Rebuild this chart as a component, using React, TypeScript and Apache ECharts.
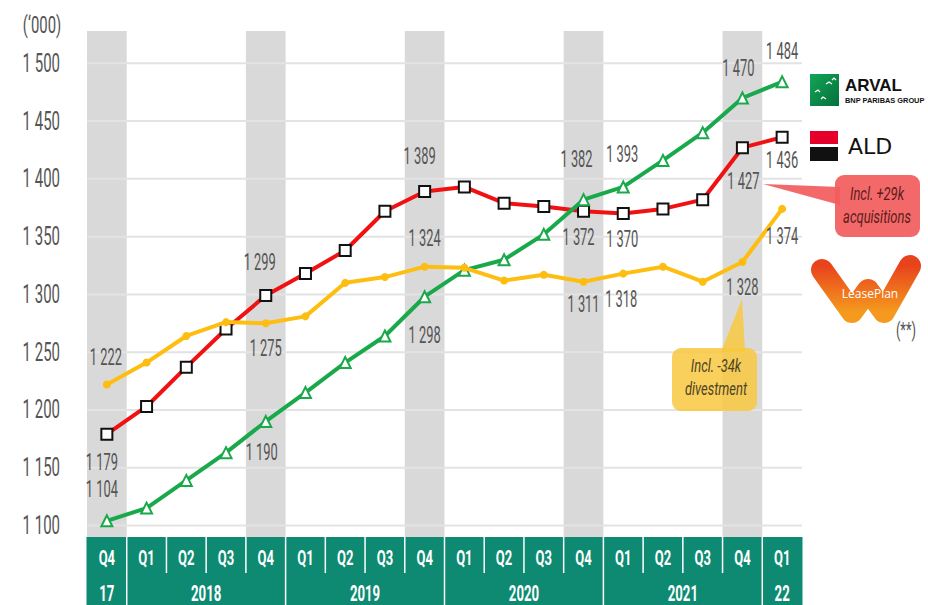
import React, { useEffect, useRef } from 'react';
import * as echarts from 'echarts';

// ---------- data ----------
const quarterLabels = ['Q4', 'Q1', 'Q2', 'Q3', 'Q4', 'Q1', 'Q2', 'Q3', 'Q4', 'Q1', 'Q2', 'Q3', 'Q4', 'Q1', 'Q2', 'Q3', 'Q4', 'Q1'];
const yearLabels = ['17', '2018', '2019', '2020', '2021', '22'];
const yearSpans = [1, 4, 4, 4, 4, 1];

const arvalValues = [1104, 1115, 1139, 1163, 1190, 1215, 1241, 1264, 1298, 1321, 1330, 1352, 1382, 1393, 1416, 1440, 1470, 1484];
const aldValues = [1179, 1203, 1237, 1270, 1299, 1318, 1338, 1372, 1389, 1393, 1379, 1376, 1372, 1370, 1374, 1382, 1427, 1436];
const leasePlanValues = [1222, 1241, 1264, 1276, 1275, 1281, 1310, 1315, 1324, 1323, 1312, 1317, 1311, 1318, 1324, 1311, 1328, 1374];

const yTicks = [1100, 1150, 1200, 1250, 1300, 1350, 1400, 1450, 1500];

// labelled points: [point index, dx, dy] (label placement relative to the point, px)
const arvalLabels: [number, number, number][] = [[0, -5, -31], [4, -4, 31], [8, 0, 39], [12, -7, -40], [13, -1, -32], [16, -4, -29], [17, 0, -30]];
const aldLabels: [number, number, number][] = [[0, -5, 28], [4, -6, -33], [8, -5, -35], [12, -5, 26], [13, -1, 26], [16, 1, 34], [17, 0, 23]];
const leasePlanLabels: [number, number, number][] = [[0, -1, -27], [4, 0, 25], [8, 0, -28], [12, 0, 23], [13, -2, 26], [16, 0, 26], [17, 0, 28]];

// ---------- styles ----------
const FONT = "Roboto, 'Liberation Sans', sans-serif";
const GREEN = '#19a94b';
const RED = '#f01212';
const YELLOW = '#fdbd11';
const STRIP = '#0e8a72';
const BAND = '#d9d9d9';
const TEXT = '#555555';

const fmt = (v: number) => `${Math.floor(v / 1000)} ${String(v % 1000).padStart(3, '0')}`;

// year of each quarter + first index of each year
const yearStarts: number[] = [];
const yearOfQuarter: string[] = [];
{
  let idx = 0;
  yearSpans.forEach((s, k) => {
    yearStarts.push(idx);
    for (let j = 0; j < s; j++) yearOfQuarter.push(yearLabels[k]);
    idx += s;
  });
}
const categories = quarterLabels.map((q, i) => `${q} ${yearOfQuarter[i]}`);

function labelSeries(name: string, values: number[], cfg: [number, number, number][]) {
  return {
    name: name + ' labels',
    type: 'custom',
    xAxisIndex: 0,
    yAxisIndex: 0,
    data: cfg.map(([i]) => [i, values[i]]),
    encode: { x: 0, y: 1 },
    silent: true,
    z: 10,
    renderItem: (params: any, api: any) => {
      const c = cfg[params.dataIndex];
      const p = api.coord([api.value(0), api.value(1)]);
      return {
        type: 'text',
        x: p[0] + c[1],
        y: p[1] + c[2],
        scaleX: 0.56,
        style: {
          text: fmt(api.value(1)), x: 0, y: 0, align: 'center', verticalAlign: 'middle',
          fontSize: 23, fill: TEXT, fontFamily: FONT,
        },
      };
    },
  };
}

function lineSeries(name: string, values: number[], color: string, symbol: string, size: number, item: any, z: number) {
  return {
    name,
    type: 'line',
    xAxisIndex: 0,
    yAxisIndex: 0,
    data: values,
    symbol,
    symbolSize: size,
    showAllSymbol: true,
    lineStyle: { color, width: 4 },
    itemStyle: item,
    z,
  };
}

function txt(text: string, x: number, y: number, scaleX: number, style: any) {
  return {
    type: 'text', silent: true, z: 101, x, y, scaleX,
    style: { text, x: 0, y: 0, align: 'center', verticalAlign: 'middle', fontFamily: FONT, ...style },
  };
}

function buildOption(): any {
  return {
    animation: false,
    backgroundColor: '#fff',
    grid: [
      { left: 87, right: 126, top: 31, bottom: 68, outerBoundsMode: 'none' },
      { left: 87, right: 126, top: 537, bottom: 0, outerBoundsMode: 'none' },
    ],
    xAxis: [
      { type: 'category', gridIndex: 0, data: categories, boundaryGap: true, show: false },
      { type: 'category', gridIndex: 1, data: categories, boundaryGap: true, show: false },
    ],
    yAxis: [
      { type: 'value', gridIndex: 0, min: 1090, max: 1528, show: false },
      { type: 'value', gridIndex: 0, min: 0, max: 1, show: false },
      { type: 'value', gridIndex: 1, min: 0, max: 1, show: false },
    ],
    series: [
      {
        name: 'bands',
        type: 'bar',
        xAxisIndex: 0,
        yAxisIndex: 1,
        data: quarterLabels.map((q) => (q === 'Q4' ? 1 : '-')),
        barWidth: '100%',
        itemStyle: { color: BAND },
        silent: true,
        z: 1,
      },
      {
        name: 'gridlines',
        type: 'custom',
        xAxisIndex: 0,
        yAxisIndex: 0,
        data: yTicks.map((v) => [0, v]),
        encode: { x: 0, y: 1 },
        silent: true,
        z: 2,
        renderItem: (params: any, api: any) => {
          const v = api.value(1);
          const y = api.coord([0, v])[1];
          const cs = params.coordSys;
          return {
            type: 'group',
            children: [
              {
                type: 'line',
                shape: { x1: cs.x, y1: y, x2: cs.x + cs.width, y2: y },
                style: { stroke: '#e3e3e3', lineWidth: 2 },
              },
              {
                type: 'text',
                x: cs.x - 27,
                y,
                scaleX: 0.6,
                style: {
                  text: fmt(v), x: 0, y: 0, align: 'right', verticalAlign: 'middle',
                  fontSize: 25, fill: TEXT, fontFamily: FONT,
                },
              },
            ],
          };
        },
      },
      {
        name: 'strip',
        type: 'custom',
        xAxisIndex: 1,
        yAxisIndex: 2,
        data: quarterLabels.map((_, i) => [i, 0]),
        encode: { x: 0, y: 1 },
        silent: true,
        z: 2,
        renderItem: (params: any, api: any) => {
          const i = api.value(0);
          const cx = api.coord([i, 0])[0];
          const w = api.size([1, 0])[0];
          const cs = params.coordSys;
          const children: any[] = [
            { type: 'rect', shape: { x: cx - w / 2 - 0.5, y: cs.y, width: w + 1, height: cs.height }, style: { fill: STRIP } },
            {
              type: 'text',
              x: cx,
              y: cs.y + cs.height * 0.3,
              scaleX: 0.62,
              style: {
                text: quarterLabels[i], x: 0, y: 0,
                align: 'center', verticalAlign: 'middle', fill: '#fff',
                fontSize: 21, fontWeight: 'bold', fontFamily: FONT,
              },
            },
          ];
          if (i > 0) {
            const full = yearStarts.includes(i);
            children.push({
              type: 'line',
              shape: { x1: cx - w / 2, y1: cs.y, x2: cx - w / 2, y2: cs.y + (full ? cs.height : cs.height * 0.53) },
              style: { stroke: '#fff', lineWidth: 1.5 },
            });
          }
          return { type: 'group', children };
        },
      },
      {
        name: 'years',
        type: 'custom',
        xAxisIndex: 1,
        yAxisIndex: 2,
        data: yearLabels.map((_, k) => [yearStarts[k], yearStarts[k] + yearSpans[k] - 1, 0]),
        encode: { x: [0, 1], y: 2 },
        silent: true,
        z: 3,
        renderItem: (params: any, api: any) => {
          const k = params.dataIndex;
          const x1 = api.coord([api.value(0), 0])[0];
          const x2 = api.coord([api.value(1), 0])[0];
          const cs = params.coordSys;
          return {
            type: 'text',
            x: (x1 + x2) / 2,
            y: cs.y + cs.height * 0.83,
            scaleX: 0.6,
            style: {
              text: yearLabels[k], x: 0, y: 0,
              align: 'center', verticalAlign: 'middle', fill: '#fff',
              fontSize: 22, fontWeight: 'bold', fontFamily: FONT,
            },
          };
        },
      },
      lineSeries('ALD', aldValues, RED, 'rect', 11, { color: '#fff', borderColor: '#111', borderWidth: 2 }, 4),
      lineSeries('Arval', arvalValues, GREEN, 'triangle', 11, { color: '#fff', borderColor: GREEN, borderWidth: 2 }, 5),
      lineSeries('LeasePlan', leasePlanValues, YELLOW, 'circle', 8, { color: YELLOW }, 6),
      labelSeries('ALD', aldValues, aldLabels),
      labelSeries('Arval', arvalValues, arvalLabels),
      labelSeries('LeasePlan', leasePlanValues, leasePlanLabels),
    ],
    graphic: [
      txt('(‘000)', 42, 25, 0.62, { fontSize: 24, fill: TEXT }),
      // Arval logo
      {
        type: 'rect', silent: true, z: 100,
        shape: { x: 810, y: 74, width: 29, height: 32 },
        style: { fill: new echarts.graphic.LinearGradient(0, 0, 1, 1, [{ offset: 0, color: '#12a556' }, { offset: 1, color: '#05703c' }]) },
      },
      { type: 'polyline', silent: true, z: 101, shape: { points: [[826, 84], [829, 82], [832, 84]] }, style: { stroke: '#fff', lineWidth: 1.2, fill: null } },
      { type: 'polyline', silent: true, z: 101, shape: { points: [[832, 80], [834, 78], [836, 80]] }, style: { stroke: '#fff', lineWidth: 1.2, fill: null } },
      { type: 'polyline', silent: true, z: 101, shape: { points: [[815, 92], [818, 90], [820, 92]] }, style: { stroke: '#fff', lineWidth: 1.2, fill: null } },
      { type: 'polyline', silent: true, z: 101, shape: { points: [[821, 99], [823, 97], [826, 99]] }, style: { stroke: '#fff', lineWidth: 1.2, fill: null } },
      {
        type: 'text', silent: true, z: 101,
        style: { text: 'ARVAL', x: 845, y: 85.5, verticalAlign: 'middle', fontSize: 17, fontWeight: 900, fill: '#111', fontFamily: "'Liberation Sans', Arial, sans-serif" },
      },
      {
        type: 'text', silent: true, z: 101,
        style: { text: 'BNP PARIBAS GROUP', x: 845, y: 100.5, verticalAlign: 'middle', fontSize: 7.4, fontWeight: 900, fill: '#111', fontFamily: "'Liberation Sans', Arial, sans-serif" },
      },
      // ALD logo
      { type: 'rect', silent: true, z: 100, shape: { x: 810, y: 131, width: 28, height: 13 }, style: { fill: '#e4002b' } },
      { type: 'rect', silent: true, z: 100, shape: { x: 810, y: 147, width: 28, height: 14 }, style: { fill: '#111' } },
      {
        type: 'text', silent: true, z: 101,
        style: { text: 'ALD', x: 848, y: 146, verticalAlign: 'middle', fontSize: 22, fill: '#111', fontFamily: "'DejaVu Sans', sans-serif" },
      },
      // LeasePlan logo
      {
        type: 'polyline', silent: true, z: 100,
        shape: { points: [[822, 270], [852, 312], [868, 290], [884, 312], [910, 266]] },
        style: {
          fill: null, lineWidth: 22, lineCap: 'round', lineJoin: 'round',
          stroke: new echarts.graphic.LinearGradient(0, 0, 0, 1, [{ offset: 0, color: '#e8441c' }, { offset: 1, color: '#f59a1e' }]),
        },
      },
      txt('LeasePlan', 870, 293, 1, { fontSize: 12, fill: '#fff', fontFamily: "'Open Sans', sans-serif" }),
      txt('(**)', 906, 330, 0.62, { fontSize: 21, fill: TEXT }),
      // red callout
      { type: 'polygon', silent: true, z: 100, shape: { points: [[763, 184], [840, 187], [840, 205]] }, style: { fill: 'rgba(242,92,92,0.92)' } },
      { type: 'rect', silent: true, z: 100, shape: { x: 835, y: 175, width: 85, height: 62, r: 9 }, style: { fill: 'rgba(242,92,92,0.92)' } },
      txt('Incl. +29k', 877, 194, 0.72, { fontSize: 18, fontStyle: 'italic', fill: '#5c1b1b' }),
      txt('acquisitions', 877, 217, 0.72, { fontSize: 18, fontStyle: 'italic', fill: '#5c1b1b' }),
      // yellow callout
      { type: 'polygon', silent: true, z: 100, shape: { points: [[721, 352], [742, 299], [745, 352]] }, style: { fill: 'rgba(247,200,62,0.85)' } },
      { type: 'rect', silent: true, z: 100, shape: { x: 672, y: 348, width: 85, height: 63, r: 9 }, style: { fill: 'rgba(247,200,62,0.85)' } },
      txt('Incl. -34k', 716, 366, 0.72, { fontSize: 18, fontStyle: 'italic', fill: '#4d4226' }),
      txt('divestment', 716, 389, 0.72, { fontSize: 18, fontStyle: 'italic', fill: '#4d4226' }),
    ],
  };
}

export default function App() {
  const ref = useRef<HTMLDivElement>(null);
  useEffect(() => {
    document.body.style.margin = '0';
    if (!ref.current) return;
    const chart = echarts.init(ref.current, undefined, { renderer: 'svg' });
    chart.setOption(buildOption());
    return () => chart.dispose();
  }, []);
  return <div ref={ref} style={{ width: 928, height: 605 }} />;
}
